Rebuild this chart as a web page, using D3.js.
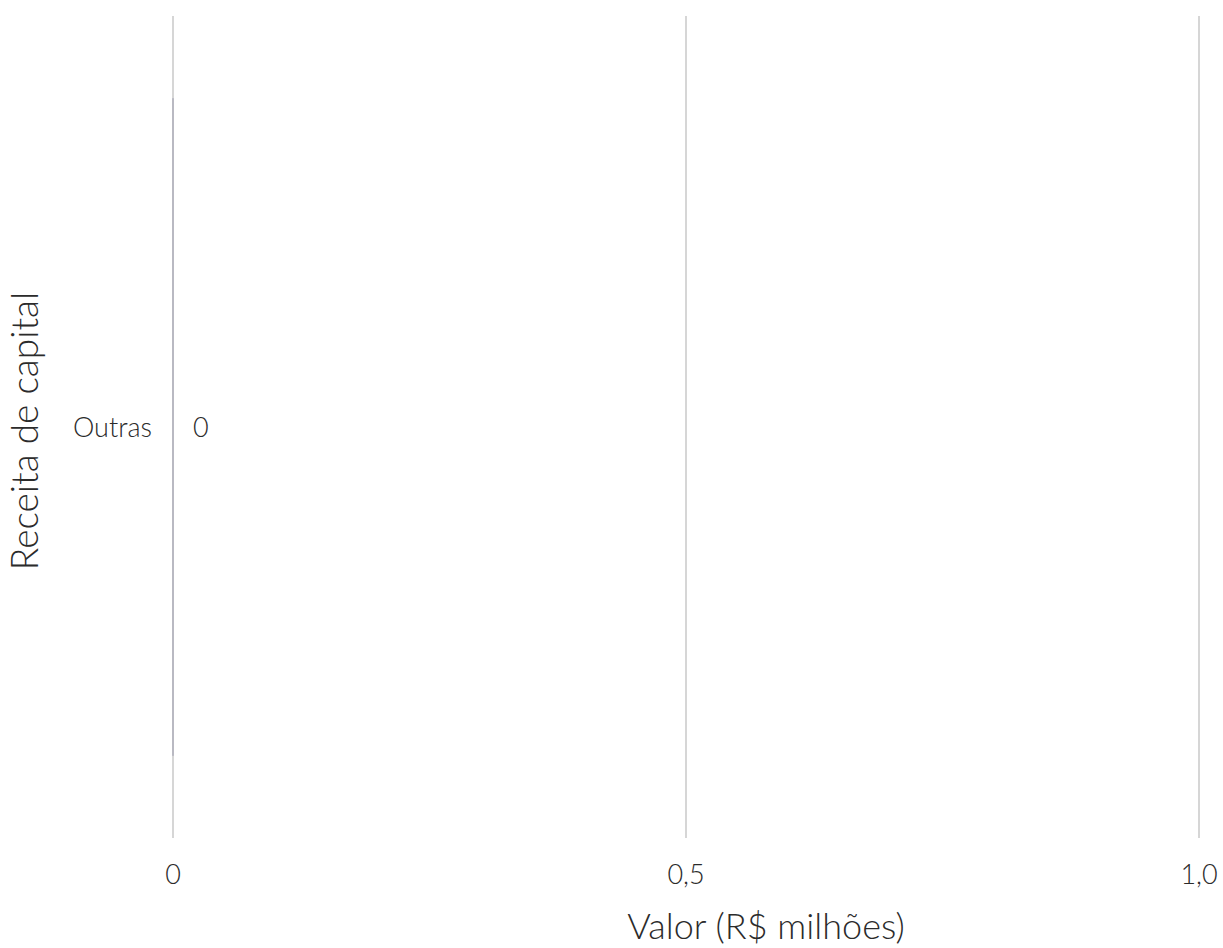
<!DOCTYPE html>
<html><head><meta charset="utf-8">
<script src="https://cdn.jsdelivr.net/npm/d3@7"></script>
<style>body{margin:0;background:#fff}text{font-family:"Lato Light",Lato,"Noto Sans",sans-serif;font-weight:300;fill:#2b2b2b}</style>
</head><body><svg id="c" width="1223" height="948"></svg>
<script>
const categories = ["Outras"];
const values = [0];
const xTicks = [0, 0.5, 1.0];
const xTickLabels = ["0", "0,5", "1,0"];
const xTitle = "Valor (R$ milhões)";
const yTitle = "Receita de capital";

const svg = d3.select("#c");
const x = d3.scaleLinear().domain([0, 1]).range([173, 1199]);
const y = d3.scaleBand().domain(categories).range([16, 838]).paddingInner(0.2).paddingOuter(0.1);

svg.append("g").selectAll("line").data(xTicks).join("line")
  .attr("x1", d => x(d)).attr("x2", d => x(d)).attr("y1", 16).attr("y2", 838)
  .attr("stroke", "#d6d6d6").attr("stroke-width", 2);

svg.append("g").selectAll("rect").data(values).join("rect")
  .attr("x", x(0) - 1).attr("y", (d, i) => y(categories[i]))
  .attr("width", d => Math.max(2, x(d) - x(0))).attr("height", y.bandwidth())
  .attr("fill", "#b9b9c2");

svg.append("g").selectAll("text").data(xTicks).join("text")
  .attr("x", d => x(d)).attr("y", 884).attr("text-anchor", "middle")
  .attr("font-size", 27).text((d, i) => xTickLabels[i]);

svg.append("g").selectAll("text").data(categories).join("text")
  .attr("x", 152).attr("y", d => y(d) + y.bandwidth() / 2 + 10).attr("text-anchor", "end")
  .attr("font-size", 27).text(d => d);

svg.append("g").selectAll("text").data(values).join("text")
  .attr("x", (d) => x(d) + 20).attr("y", (d, i) => y(categories[i]) + y.bandwidth() / 2 + 10)
  .attr("font-size", 27).text(d => d3.format(",")(d).replace(".", ","));

svg.append("text").attr("x", 766).attr("y", 939).attr("text-anchor", "middle")
  .attr("font-size", 36).text(xTitle);

svg.append("text").attr("transform", "translate(38,431) rotate(-90)").attr("text-anchor", "middle")
  .attr("font-size", 37).text(yTitle);
</script></body></html>
